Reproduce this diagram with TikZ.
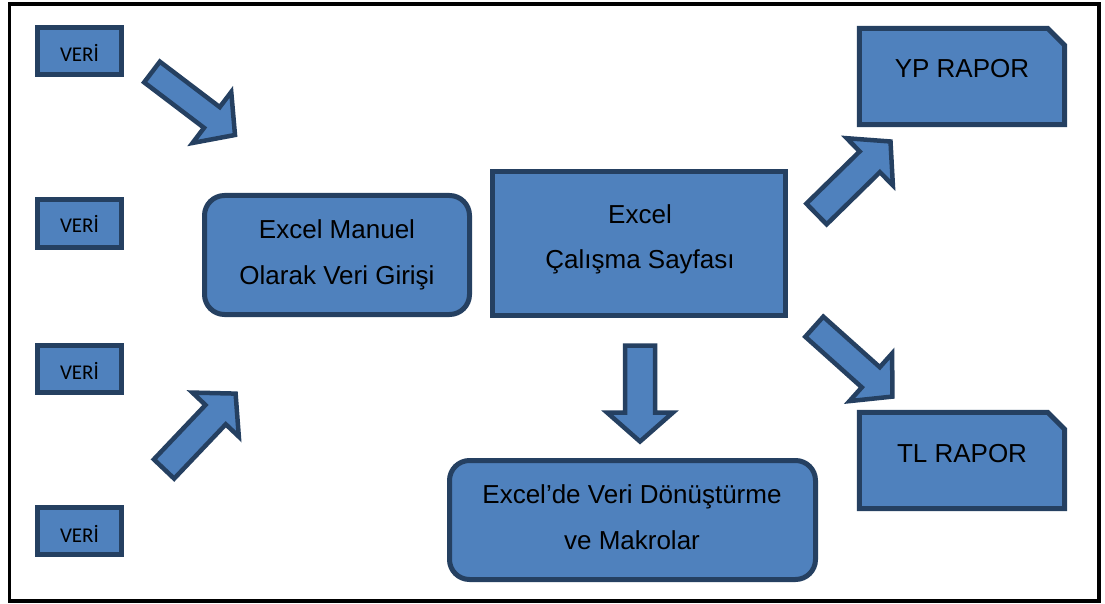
\documentclass[tikz,border=0pt]{standalone}
\usepackage{fontspec}
\setmainfont{Liberation Sans}
\newfontfamily\calibrifont{Carlito}
\usetikzlibrary{calc}
\definecolor{fillblue}{HTML}{4F81BD}
\definecolor{edgeblue}{RGB}{37,64,97}
\tikzset{
  shapebox/.style={draw=edgeblue, fill=fillblue, line width=5pt, inner sep=0pt},
  veribox/.style={shapebox, minimum width=84pt, minimum height=47pt},
  roundbox/.style={shapebox, rounded corners=20pt},
  barrow/.style={draw=edgeblue, fill=fillblue, line width=4.5pt, line join=miter},
  lbl/.style={inner sep=0pt, text=black, font=\fontsize{26}{30}\selectfont},
  verilbl/.style={inner sep=0pt, text=black, font=\calibrifont\fontsize{21}{25}\selectfont},
}
\newcommand\blockarrow[5]{%
  \coordinate (ba-B) at ($(#2)!#5!(#1)$);
  \draw[barrow] ($(#1)!#3!90:(#2)$) -- ($(ba-B)!#3!-90:(#1)$) -- ($(ba-B)!#4!-90:(#1)$)
    -- (#2) -- ($(ba-B)!#4!90:(#1)$) -- ($(ba-B)!#3!90:(#1)$) -- ($(#1)!#3!-90:(#2)$) -- cycle;
}
\begin{document}
\begin{tikzpicture}[x=1pt,y=-1pt]
\useasboundingbox (0,0) rectangle (1105,604);
\fill[white] (0,0) rectangle (1105,604);
\draw[line width=3.5pt] (9.5,4) rectangle (1099,601);

% VERI boxes
\node[veribox] (v1) at (79.5,51) {};
\node[veribox] (v2) at (79.5,223.5) {};
\node[veribox] (v3) at (79.5,368.5) {};
\node[veribox] (v4) at (79.5,531) {};
\node[verilbl, anchor=base] (v1t) at (79.5,62) {VERİ};
\node[verilbl, anchor=base] (v2t) at (79.5,233) {VERİ};
\node[verilbl, anchor=base] (v3t) at (79.5,379) {VERİ};
\node[verilbl, anchor=base] (v4t) at (79.5,542) {VERİ};

% main boxes
\node[roundbox, minimum width=265pt, minimum height=119pt] (manuel) at (337,255) {};
\node[lbl, anchor=base] (manuel1) at (337,238) {Excel Manuel};
\node[lbl, anchor=base] (manuel2) at (337,284) {Olarak Veri Girişi};

\node[shapebox, minimum width=293pt, minimum height=144pt] (calisma) at (639,243.5) {};
\node[lbl, anchor=base] (calisma1) at (640,223) {Excel};
\node[lbl, anchor=base] (calisma2) at (640,268) {Çalışma Sayfası};

\node[roundbox, minimum width=366pt, minimum height=119pt] (makro) at (632.5,520) {};
\node[lbl, anchor=base] (makro1) at (632,503) {Excel’de Veri Dönüştürme};
\node[lbl, anchor=base] (makro2) at (632,549) {ve Makrolar};

% report boxes (snipped corner)
\node[inner sep=0pt, minimum width=205pt, minimum height=96pt] (yp) at (962,76.5) {};
\draw[shapebox, line join=miter] (yp.north west) -- ([xshift=-17pt]yp.north east) -- ([yshift=-17pt]yp.north east)
  -- (yp.south east) -- (yp.south west) -- cycle;
\node[lbl, anchor=base] (ypt) at (962,78) {YP RAPOR};

\node[inner sep=0pt, minimum width=205pt, minimum height=96pt] (tl) at (962,460.5) {};
\draw[shapebox, line join=miter] (tl.north west) -- ([xshift=-17pt]tl.north east) -- ([yshift=-17pt]tl.north east)
  -- (tl.south east) -- (tl.south west) -- cycle;
\node[lbl, anchor=base] (tlt) at (962,462) {TL RAPOR};

% block arrows
\coordinate (a1t) at (152,72);   \coordinate (a1h) at (235,135);
\coordinate (a2t) at (164,469);  \coordinate (a2h) at (235.6,393.6);
\coordinate (a3t) at (640,345.5);\coordinate (a3h) at (640,441.5);
\coordinate (a4t) at (816.5,214);\coordinate (a4h) at (890.5,141.5);
\coordinate (a5t) at (814.3,326.7);\coordinate (a5h) at (892.4,396.6);
\blockarrow{a1t}{a1h}{13pt}{32pt}{29pt}
\blockarrow{a2t}{a2h}{14pt}{32pt}{29pt}
\blockarrow{a3t}{a3h}{15pt}{33pt}{29pt}
\blockarrow{a4t}{a4h}{14.5pt}{33pt}{29pt}
\blockarrow{a5t}{a5h}{13.5pt}{32pt}{29pt}
\end{tikzpicture}
\end{document}
